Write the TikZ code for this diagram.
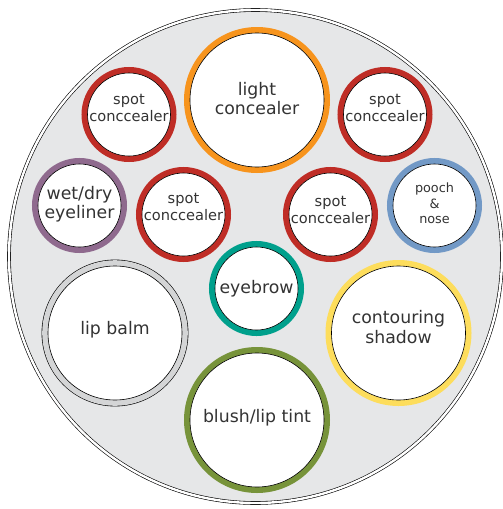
\documentclass[tikz,border=0pt]{standalone}
\usepackage{fontspec}
\setmainfont{DejaVu Sans}
\usepackage{xcolor}
\usetikzlibrary{positioning, calc}

\definecolor{traygray}{HTML}{E6E7E8}
\definecolor{balmgray}{HTML}{D4D5D6}
\definecolor{inkgray}{HTML}{333333}
\definecolor{lightorange}{HTML}{F7941D}
\definecolor{spotred}{HTML}{BF2D26}
\definecolor{linerpurple}{HTML}{8F6A8E}
\definecolor{poochblue}{HTML}{7299C6}
\definecolor{browteal}{HTML}{00A08C}
\definecolor{shadowyellow}{HTML}{FDDD5C}
\definecolor{blushgreen}{HTML}{77933A}

\begin{document}
\begin{tikzpicture}[
		x=1pt, y=-1pt,
		well/.style={circle, fill=white, draw=black, line width=0.6pt, inner sep=0pt, minimum size=#1},
		bigwell/.style={well=134pt},
		smallwell/.style={well=83pt},
		ring/.style={preaction={draw=#1, line width=12pt}},
		balmring/.style={preaction={draw=black, line width=12.8pt}, preaction={draw=balmgray, line width=11.6pt}},
		txt/.style={align=center, text=inkgray, inner sep=0pt, font=\fontsize{17.3}{19.5}\selectfont},
		smalltxt/.style={txt, font=\fontsize{14.6}{16.5}\selectfont},
		tinytxt/.style={txt, font=\fontsize{12.8}{15.5}\selectfont}
		]

		\useasboundingbox (0,0) rectangle (503,509);

		% tray
		\node[circle, fill=traygray, draw=black, double=white, double distance=2.4pt, line width=0.6pt, inner sep=0pt, minimum size=493pt] (tray) at (255.5,256.5) {};

		% big wells
		\node[bigwell, ring=lightorange] (light) at (257,100) {};
		\node[bigwell, balmring] (balm) at (115,333) {};
		\node[bigwell, ring=shadowyellow] (shadow) at (398.5,333) {};
		\node[bigwell, ring=blushgreen] (blush) at (257,420) {};

		% small wells
		\node[smallwell, ring=spotred] (spotA) at (129,114.5) {};
		\node[smallwell, ring=spotred] (spotB) at (385,114.5) {};
		\node[smallwell, ring=spotred] (spotC) at (183.5,214.5) {};
		\node[smallwell, ring=spotred] (spotD) at (330.5,214.5) {};
		\node[smallwell, ring=linerpurple] (liner) at (79.5,205.5) {};
		\node[smallwell, ring=poochblue] (pooch) at (434.5,205.5) {};
		\node[smallwell, ring=browteal] (brow) at (256.5,288.5) {};

		% labels
		\node[txt, yshift=1.5pt] (light-t) at (light) {light\\concealer};
		\node[txt, yshift=3pt] (balm-t) at (balm) {lip balm};
		\node[txt, yshift=6pt] (shadow-t) at (shadow) {contouring\\shadow};
		\node[txt, yshift=2pt] (blush-t) at (blush) {blush/lip tint};
		\node[smalltxt, yshift=6.5pt] (spotA-t) at (spotA) {spot\\conccealer};
		\node[smalltxt, yshift=6.5pt] (spotB-t) at (spotB) {spot\\conccealer};
		\node[smalltxt, yshift=7.5pt] (spotC-t) at (spotC) {spot\\conccealer};
		\node[smalltxt, yshift=4.5pt] (spotD-t) at (spotD) {spot\\conccealer};
		\node[txt, yshift=1.5pt] (liner-t) at (liner) {wet/dry\\eyeliner};
		\node[tinytxt, yshift=2pt] (pooch-t) at (pooch) {pooch\\\&\\nose};
		\node[txt] (brow-t) at (brow) {eyebrow};
	\end{tikzpicture}
\end{document}
